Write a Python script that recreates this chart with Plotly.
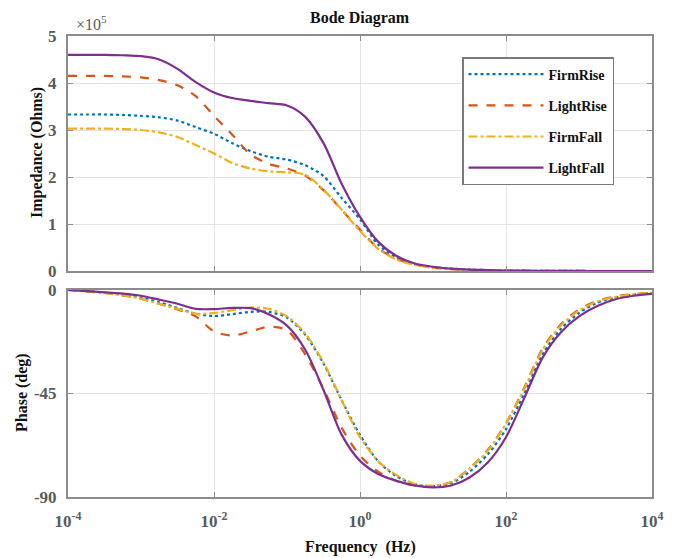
import plotly.graph_objects as go

# Frequency grid (log10 of Hz), quarter-decade steps
log_f = [-4.0, -3.75, -3.5, -3.25, -3.0, -2.75, -2.5, -2.25, -2.0, -1.75, -1.5, -1.25,
         -1.0, -0.75, -0.5, -0.25, 0.0, 0.25, 0.5, 0.75, 1.0, 1.25, 1.5, 1.75,
         2.0, 2.25, 2.5, 2.75, 3.0, 3.25, 3.5, 3.75, 4.0]
freq = [10 ** v for v in log_f]

# Impedance magnitude, x10^5 Ohms
mag_firm_rise = [3.33, 3.33, 3.33, 3.32, 3.30, 3.27, 3.20, 3.06, 2.92, 2.72, 2.55, 2.43,
                 2.37, 2.25, 2.02, 1.55, 1.10, 0.56, 0.29, 0.15, 0.08, 0.05, 0.03, 0.02,
                 0.01, 0.006, 0.004, 0.002, 0.001, 0.0, 0.0, 0.0, 0.0]
mag_light_rise = [4.15, 4.15, 4.15, 4.14, 4.12, 4.06, 3.95, 3.72, 3.30, 2.90, 2.48, 2.28,
                  2.18, 2.03, 1.72, 1.30, 0.88, 0.48, 0.26, 0.14, 0.07, 0.04, 0.025, 0.015,
                  0.01, 0.006, 0.004, 0.002, 0.001, 0.0, 0.0, 0.0, 0.0]
mag_firm_fall = [3.03, 3.03, 3.03, 3.02, 3.00, 2.95, 2.85, 2.68, 2.50, 2.30, 2.18, 2.12,
                 2.10, 2.05, 1.73, 1.30, 0.85, 0.47, 0.24, 0.13, 0.07, 0.04, 0.025, 0.015,
                 0.01, 0.006, 0.004, 0.002, 0.001, 0.0, 0.0, 0.0, 0.0]
mag_light_fall = [4.60, 4.60, 4.60, 4.59, 4.57, 4.50, 4.30, 4.02, 3.80, 3.68, 3.62, 3.57,
                  3.52, 3.28, 2.72, 1.85, 1.15, 0.62, 0.32, 0.16, 0.09, 0.05, 0.03, 0.02,
                  0.01, 0.006, 0.004, 0.002, 0.001, 0.0, 0.0, 0.0, 0.0]

# Phase, degrees
ph_firm_rise = [0.0, -0.5, -1.1, -2.0, -3.3, -5.3, -7.8, -10.3, -11.3, -10.5, -9.5, -9.5,
                -12.0, -19.5, -32.0, -48.0, -63.0, -74.5, -81.0, -84.5, -85.3, -84.0, -79.0, -71.5,
                -60.5, -45.0, -28.0, -17.0, -10.0, -5.5, -3.3, -2.0, -1.3]
ph_light_rise = [0.0, -0.6, -1.3, -2.3, -3.8, -6.0, -8.5, -11.5, -18.0, -19.8, -18.0, -16.0,
                 -17.5, -28.0, -43.0, -60.0, -72.0, -79.0, -83.0, -85.0, -85.3, -83.5, -77.5, -69.5,
                 -58.0, -42.5, -25.5, -15.0, -8.5, -4.8, -2.8, -1.8, -1.2]
ph_firm_fall = [0.0, -0.6, -1.3, -2.3, -3.8, -6.0, -8.2, -10.3, -10.0, -8.8, -7.6, -8.2,
                -11.5, -19.0, -31.5, -48.0, -64.0, -74.5, -80.5, -84.3, -85.0, -83.5, -77.5, -70.0,
                -58.0, -43.0, -26.0, -15.5, -9.0, -5.0, -3.0, -1.8, -1.2]
ph_light_fall = [0.0, -0.5, -1.0, -1.6, -2.5, -4.2, -6.0, -8.2, -8.3, -7.8, -7.9, -10.5,
                 -15.5, -26.0, -43.5, -63.0, -74.3, -80.0, -83.0, -85.0, -85.8, -85.0, -81.5, -75.0,
                 -64.0, -47.0, -29.5, -18.5, -11.5, -7.0, -4.0, -2.5, -1.7]

names = ["FirmRise", "LightRise", "FirmFall", "LightFall"]
colors = ["#0072BD", "#D95319", "#EDB120", "#7E2F8E"]
dashes = ["dot", "dash", "dashdot", "solid"]
mags = [mag_firm_rise, mag_light_rise, mag_firm_fall, mag_light_fall]
phases = [ph_firm_rise, ph_light_rise, ph_firm_fall, ph_light_fall]

x_ticks = [1e-4, 1e-2, 1e0, 1e2, 1e4]
x_tick_text = ["10<sup>-4</sup>", "10<sup>-2</sup>", "10<sup>0</sup>", "10<sup>2</sup>", "10<sup>4</sup>"]
mag_ticks = [0, 1, 2, 3, 4, 5]
phase_ticks = [-90, -45, 0]
phase_tick_text = ["-90", "-45", "0"]

W, H = 673, 558
SERIF = "Liberation Serif"
TICK_FONT = dict(family=SERIF, size=17, color="#5a5a5a", weight="bold")
LABEL_FONT = dict(family=SERIF, size=16, color="#111111", weight="bold")
AXIS_COLOR = "#8c8c8c"
GRID_COLOR = "#e3e3e3"


def px_x(x):
    return x / W


def px_y(y):
    return 1 - y / H


fig = go.Figure()
for name, col, dsh, m, p in zip(names, colors, dashes, mags, phases):
    fig.add_trace(go.Scatter(
        x=freq, y=m, name=name, legendgroup=name, mode="lines",
        line=dict(color=col, dash=dsh, width=2.2, shape="spline", smoothing=0.8),
        xaxis="x", yaxis="y"))
    fig.add_trace(go.Scatter(
        x=freq, y=p, name=name, legendgroup=name, showlegend=False, mode="lines",
        line=dict(color=col, dash=dsh, width=2.2, shape="spline", smoothing=0.8),
        xaxis="x2", yaxis="y2"))

common_x = dict(type="log", range=[-4, 4], tickvals=x_ticks, showgrid=True,
                domain=[px_x(68), px_x(652)],
                gridcolor=GRID_COLOR, gridwidth=1, showline=True, linecolor=AXIS_COLOR,
                linewidth=2, mirror="ticks", ticks="inside", ticklen=5, tickcolor=AXIS_COLOR,
                zeroline=False, automargin=False)
common_y = dict(showgrid=True, gridcolor=GRID_COLOR, gridwidth=1, showline=True,
                linecolor=AXIS_COLOR, linewidth=2, mirror="ticks", ticks="inside",
                ticklen=5, tickcolor=AXIS_COLOR, zeroline=False, tickfont=TICK_FONT,
                ticklabelstandoff=6, automargin=False)


def label(text, x, y, angle=0, font=LABEL_FONT):
    return dict(text=text, xref="paper", yref="paper", x=px_x(x), y=px_y(y),
                xanchor="center", yanchor="middle", textangle=angle,
                showarrow=False, font=font)


fig.update_layout(
    width=W, height=H,
    margin=dict(l=0, r=0, t=0, b=0),
    paper_bgcolor="white", plot_bgcolor="white",
    showlegend=True,
    xaxis=dict(**common_x, anchor="y", showticklabels=False),
    yaxis=dict(**common_y, domain=[px_y(271), px_y(36)], range=[0, 5], tickvals=mag_ticks,
               anchor="x"),
    xaxis2=dict(**common_x, anchor="y2", matches="x", showticklabels=True,
                ticktext=x_tick_text, tickfont=TICK_FONT, ticklabelstandoff=8),
    yaxis2=dict(**common_y, domain=[px_y(497), px_y(290)], range=[-90, 0],
                tickvals=phase_ticks, ticktext=phase_tick_text, anchor="x2"),
    legend=dict(x=px_x(462), y=px_y(57), xanchor="left", yanchor="top",
                bgcolor="white", bordercolor="#7a7a7a", borderwidth=1.5,
                font=dict(family=SERIF, size=14, color="#111111", weight="bold"),
                tracegroupgap=10, itemwidth=75),
    annotations=[
        label("Bode Diagram", 360, 18),
        label("×10<sup>5</sup>", 92, 23, font=dict(family=SERIF, size=16, color="#5a5a5a")),
        label("Impedance (Ohms)", 37, 153, angle=-90),
        label("Phase (deg)", 22, 393, angle=-90),
        label("Frequency  (Hz)", 360, 547),
    ],
)

fig.write_html("out.html")
